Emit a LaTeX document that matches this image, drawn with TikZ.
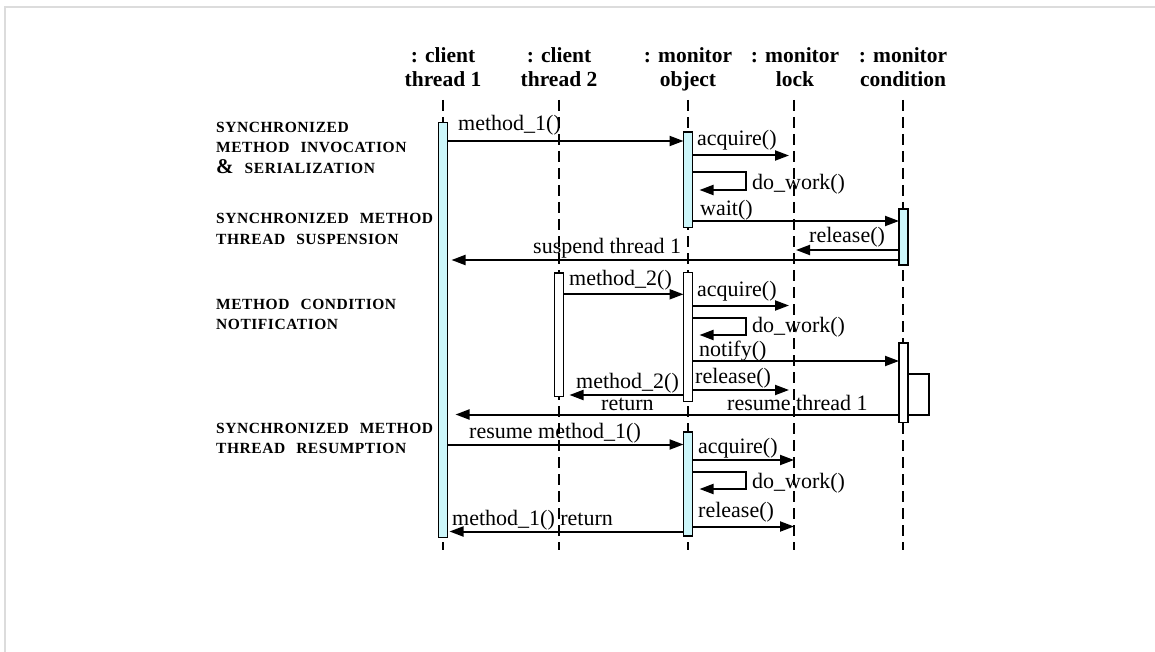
\documentclass[tikz,border=0pt]{standalone}
\usepackage{fontspec}
\setmainfont{Liberation Serif}
\newfontfamily\phasefont[LetterSpace=3.5,WordSpace=2.5]{Liberation Serif}
\usetikzlibrary{arrows.meta}
\definecolor{actfill}{RGB}{204,246,250}
\definecolor{framegray}{RGB}{220,220,220}
\tikzset{
  tip/.tip={Triangle[length=14pt,width=10pt]},
  lifeline/.style={line width=1.6pt, dash pattern=on 11pt off 6pt},
  act/.style={draw, line width=1.5pt, minimum width=9pt, inner sep=0pt, outer sep=0pt},
  msg/.style={line width=2pt, -tip},
  loopline/.style={line width=2pt},
  lbl/.style={anchor=base west, inner sep=0pt, font=\fontsize{22}{26}\selectfont},
  hdr/.style={anchor=base, inner sep=0pt, font=\bfseries\fontsize{21.5}{24}\selectfont},
  phase/.style={anchor=base west, inner sep=0pt, font=\phasefont\bfseries\fontsize{15.5}{20}\selectfont},
}
\begin{document}
\begin{tikzpicture}[x=1pt,y=-1pt]
\useasboundingbox (0,0) rectangle (1155,652);
\draw[framegray, line width=2pt] (5,652) -- (5,7) -- (1155,7);

% headers
\node[hdr] (h1a) at (443,63) {: client};
\node[hdr] (h1b) at (443,87) {thread 1};
\node[hdr] (h2a) at (559,63) {: client};
\node[hdr] (h2b) at (559,87) {thread 2};
\node[hdr] (h3a) at (688,63) {: monitor};
\node[hdr] (h3b) at (688,87) {object};
\node[hdr] (h4a) at (795,63) {: monitor};
\node[hdr] (h4b) at (795,87) {lock};
\node[hdr] (h5a) at (903,63) {: monitor};
\node[hdr] (h5b) at (903,87) {condition};

% lifelines
\coordinate (l1t) at (443,100); \coordinate (l1b) at (443,550);
\coordinate (l2t) at (559,100); \coordinate (l2b) at (559,550);
\coordinate (l3t) at (688,100); \coordinate (l3b) at (688,550);
\coordinate (l4t) at (794,100); \coordinate (l4b) at (794,550);
\coordinate (l5t) at (903,100); \coordinate (l5b) at (903,550);
\foreach \n in {1,...,5} {\draw[lifeline] (l\n t) -- (l\n b);}

% activations
\node[act, fill=actfill, minimum height=415pt]   (A1) at (443,330) {};
\node[act, fill=actfill, minimum height=95.5pt]  (O1) at (688,179.75) {};
\node[act, fill=actfill, minimum height=56pt]    (C1) at (903.5,237) {};
\node[act, fill=white,   minimum height=123.5pt] (T2) at (559,334.75) {};
\node[act, fill=white,   minimum height=129pt]   (O2) at (688,337) {};
\node[act, fill=white,   minimum height=79.5pt]  (C2) at (903.5,382.75) {};
\node[act, fill=actfill, minimum height=104pt]   (O3) at (688,484) {};

% phase labels
\node[phase] (p1a) at (216,133) {SYNCHRONIZED};
\node[phase] (p1b) at (216,153) {METHOD INVOCATION};
\node[phase] (p1c) at (216,173.5) {{\fontsize{21}{21}\selectfont\&} SERIALIZATION};
\node[phase] (p2a) at (216,223) {SYNCHRONIZED METHOD};
\node[phase] (p2b) at (216,244) {THREAD SUSPENSION};
\node[phase] (p3a) at (216,309) {METHOD CONDITION};
\node[phase] (p3b) at (216,329.5) {NOTIFICATION};
\node[phase] (p4a) at (216,433) {SYNCHRONIZED METHOD};
\node[phase] (p4b) at (216,453) {THREAD RESUMPTION};

% phase 1
\draw[msg] (A1.east |- 0,141) -- (O1.west |- 0,141);
\node[lbl] (t1) at (458,131) {method\_1()};
\draw[msg, shorten >=5pt] (O1.east |- 0,155.5) -- (l4t |- 0,155.5);
\node[lbl] (t2) at (697,146) {acquire()};
\draw[loopline, -tip, shorten >=7pt] (O1.east |- 0,172.5) -- (746,172.5) -- (746,190) -- (O1.east |- 0,190);
\node[lbl] (t3) at (752,190) {do\_work()};
\draw[msg] (O1.east |- 0,221) -- (C1.west |- 0,221);
\node[lbl] (t4) at (700,215) {wait()};
\draw[msg, shorten >=2pt] (C1.west |- 0,250) -- (l4t |- 0,250);
\node[lbl] (t5) at (809,243) {release()};
\draw[msg, shorten >=4pt] (C1.west |- 0,260) -- (A1.east |- 0,260);
\node[lbl] (t6) at (533,253) {suspend thread 1};

% phase 2
\draw[msg] (T2.east |- 0,294.3) -- (O2.west |- 0,294.3);
\node[lbl] (t7) at (569,285) {method\_2()};
\draw[msg, shorten >=5pt] (O2.east |- 0,305.5) -- (l4t |- 0,305.5);
\node[lbl] (t8) at (697,296) {acquire()};
\draw[loopline, -tip, shorten >=7pt] (O2.east |- 0,317.5) -- (746,317.5) -- (746,335) -- (O2.east |- 0,335);
\node[lbl] (t9) at (752,332) {do\_work()};
\draw[msg] (O2.east |- 0,361) -- (C2.west |- 0,361);
\node[lbl] (t10) at (699,356) {notify()};
\draw[loopline] (C2.east |- 0,374) -- (928.5,374) -- (928.5,414.5) -- (C2.east |- 0,414.5);
\draw[msg, shorten >=5pt] (O2.east |- 0,390) -- (l4t |- 0,390);
\node[lbl] (t11) at (695,383) {release()};
\draw[msg, shorten >=6pt] (O2.west |- 0,395) -- (T2.east |- 0,395);
\node[lbl] (t12) at (576,388) {method\_2()};
\node[lbl] (t13) at (601,410) {return};
\draw[msg, shorten >=8pt] (C2.west |- 0,414.5) -- (A1.east |- 0,414.5);
\node[lbl] (t14) at (727,410) {resume thread 1};

% phase 3
\draw[msg] (A1.east |- 0,444.5) -- (O3.west |- 0,444.5);
\node[lbl] (t15) at (469,438) {resume method\_1()};
\draw[msg] (O3.east |- 0,460) -- (l4t |- 0,460);
\node[lbl] (t16) at (698,453) {acquire()};
\draw[loopline, -tip, shorten >=7pt] (O3.east |- 0,472) -- (746,472) -- (746,489) -- (O3.east |- 0,489);
\node[lbl] (t17) at (752,488) {do\_work()};
\draw[msg] (O3.east |- 0,526.5) -- (l4t |- 0,526.5);
\node[lbl] (t18) at (698,517) {release()};
\draw[msg, shorten >=2pt] (O3.west |- 0,531.5) -- (A1.east |- 0,531.5);
\node[lbl] (t19) at (452,525) {method\_1() return};
\end{tikzpicture}
\end{document}
